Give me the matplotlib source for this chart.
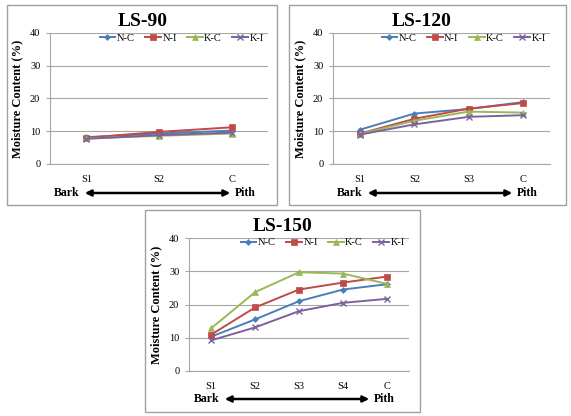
import matplotlib
matplotlib.use("Agg")
import matplotlib.pyplot as plt
from matplotlib.patches import Rectangle, FancyArrowPatch

plt.rcParams['font.family'] = ['Liberation Serif', 'DejaVu Serif']

series_names = ["N-C", "N-I", "K-C", "K-I"]
colors = ["#4A7EBB", "#BE4B48", "#98B954", "#7D60A0"]
markers = ["D", "s", "^", "x"]
msizes = [3, 4, 4, 4.5]

cats_90 = ["S1", "S2", "C"]
ls90 = {
    "N-C": [8.2, 9.3, 10.2],
    "N-I": [8.0, 9.8, 11.2],
    "K-C": [7.8, 8.6, 9.3],
    "K-I": [7.7, 8.8, 9.6],
}
cats_120 = ["S1", "S2", "S3", "C"]
ls120 = {
    "N-C": [10.5, 15.4, 16.8, 18.9],
    "N-I": [9.3, 13.8, 16.9, 18.6],
    "K-C": [9.2, 13.2, 16.0, 15.7],
    "K-I": [9.0, 12.1, 14.4, 14.9],
}
cats_150 = ["S1", "S2", "S3", "S4", "C"]
ls150 = {
    "N-C": [10.3, 15.5, 21.0, 24.5, 26.1],
    "N-I": [10.9, 19.1, 24.5, 26.6, 28.4],
    "K-C": [12.8, 23.7, 29.7, 29.3, 26.2],
    "K-I": [9.2, 13.1, 18.0, 20.5, 21.7],
}
titles = ["LS-90", "LS-120", "LS-150"]
yticks = [0, 10, 20, 30, 40]

W, H = 571, 416
fig = plt.figure(figsize=(W / 100, H / 100), dpi=100)


def fx(x):
    return x / W


def fy(y):
    return 1 - y / H


def box(x0, y0, x1, y1):
    r = Rectangle((fx(x0), fy(y1)), fx(x1 - x0), (y1 - y0) / H,
                  transform=fig.transFigure, fill=False,
                  edgecolor="#A0A0A0", linewidth=1.0)
    fig.patches.append(r)


def panel(ax_px, box_px, cats, data, title, title_x, arrow_y, arrow_x0, arrow_x1):
    l, t, r, b = ax_px
    box(*box_px)
    ax = fig.add_axes([fx(l), fy(b), fx(r - l), (b - t) / H])
    x = list(range(len(cats)))
    for name, c, m, ms in zip(series_names, colors, markers, msizes):
        ax.plot(x, data[name], color=c, marker=m, markersize=ms, linewidth=1.4,
                label=name, markeredgewidth=1.0 if m == "x" else 0.5)
    ax.set_xlim(-0.5, len(cats) - 0.5)
    ax.set_ylim(0, 40)
    ax.set_yticks(yticks)
    ax.set_xticks(x)
    ax.set_xticklabels(cats)
    ax.grid(axis="y", color="#A6A6A6", linewidth=0.8)
    ax.set_axisbelow(True)
    for s in ["top", "right"]:
        ax.spines[s].set_visible(False)
    for s in ["left", "bottom"]:
        ax.spines[s].set_color("#A6A6A6")
    ax.tick_params(axis="y", length=3, color="#A6A6A6", labelsize=7.5, pad=4)
    ax.tick_params(axis="x", length=0, labelsize=7.5, pad=8)
    ax.set_ylabel("Moisture Content (%)", fontsize=9, fontweight="bold", labelpad=5)
    ax.legend(loc="upper right", ncol=4, frameon=False, fontsize=7.5,
              handlelength=1.5, handletextpad=0.15, columnspacing=1.0,
              bbox_to_anchor=(1.0, 1.03), borderaxespad=0.0)
    fig.text(fx(title_x), fy(t - 11), title, ha="center", va="center",
             fontsize=14, fontweight="bold")
    fig.text(fx(arrow_x0 - 3), fy(arrow_y), "Bark", ha="right", va="center",
             fontsize=8.5, fontweight="bold")
    fig.text(fx(arrow_x1 + 2), fy(arrow_y), "Pith", ha="left", va="center",
             fontsize=8.5, fontweight="bold")
    fig.patches.append(FancyArrowPatch(
        (fx(arrow_x0), fy(arrow_y)), (fx(arrow_x1), fy(arrow_y)),
        transform=fig.transFigure, arrowstyle="<|-|>", mutation_scale=9,
        color="black", linewidth=1.8))
    return ax


panel((50, 33, 268, 164), (7, 5, 277, 205), cats_90, ls90, titles[0], 143,
      193, 82, 233)
panel((333, 33, 550, 164), (289, 5, 566, 205), cats_120, ls120, titles[1], 422,
      193, 365, 515)
panel((189, 238, 409, 371), (145, 210, 420, 412), cats_150, ls150, titles[2], 283,
      399, 222, 372)

fig.savefig("out.png", dpi=100)
